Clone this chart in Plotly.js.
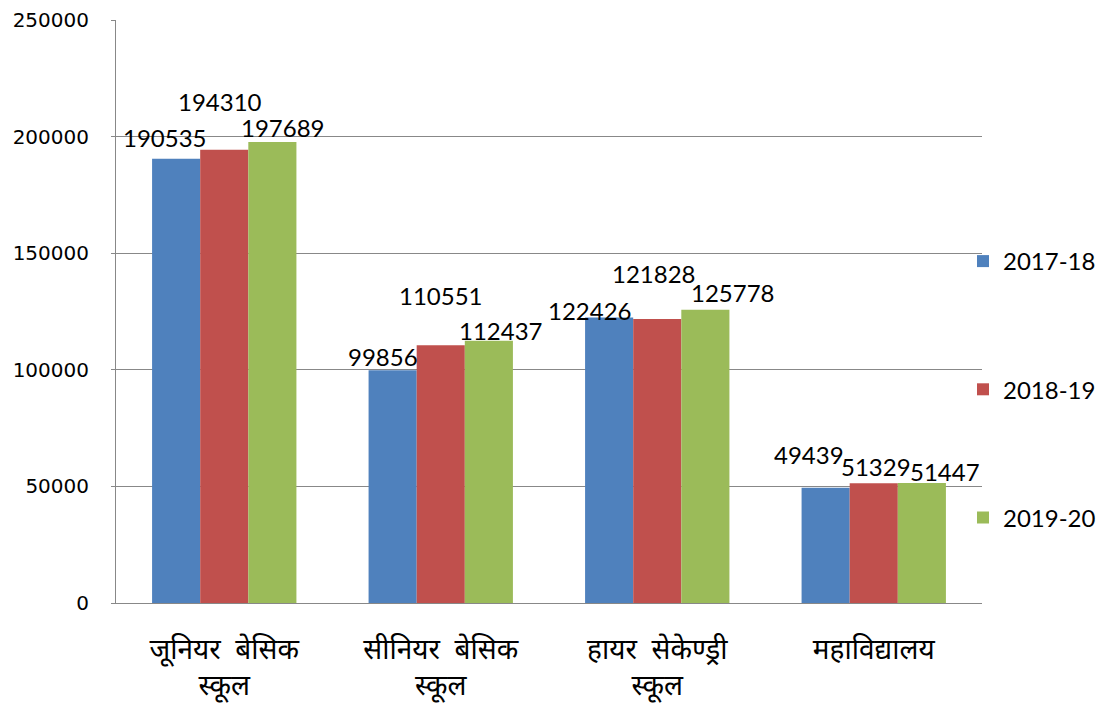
<!DOCTYPE html>
<html>
<head>
<meta charset="utf-8">
<script src="https://cdn.plot.ly/plotly-3.0.1.min.js"></script>
<style>html,body{margin:0;padding:0;background:#fff;}#chart{width:1105px;height:711px;}</style>
</head>
<body>
<div id="chart"></div>
<script>
const categories = ["जूनियर  बेसिक<br>स्कूल", "सीनियर  बेसिक<br>स्कूल", "हायर  सेकेण्ड्री<br>स्कूल", "महाविद्यालय"];
const seriesNames = ["2017-18", "2018-19", "2019-20"];
const values2017 = [190535, 99856, 122426, 49439];
const values2018 = [194310, 110551, 121828, 51329];
const values2019 = [197689, 112437, 125778, 51447];
const colors = ["#4F81BD", "#C0504D", "#9BBB59"];
const yTicks = [0, 50000, 100000, 150000, 200000, 250000];

// label pixel adjustments [xshift, yshift above bar top] per series, per category
const labelAdjust = [
  [[-11, 21], [-10, 14], [-19, 7], [-17, 33]],
  [[-4, 48], [0, 50], [-3, 45], [2, 17]],
  [[11, 14], [12, 10], [28, 17], [23, 12]]
];

const allSeries = [values2017, values2018, values2019];
const catIdx = categories.map((c, i) => i);
const traces = allSeries.map((vals, s) => ({
  type: 'bar',
  name: seriesNames[s],
  x: catIdx,
  y: vals,
  marker: {color: colors[s], line: {width: 0}},
  legendgroup: 'g' + s,
  hoverinfo: 'y'
}));

const barUnit = 2 / 9; // each bar width in category units (group = 2/3)
const annotations = [];
allSeries.forEach((vals, s) => {
  vals.forEach((v, i) => {
    annotations.push({
      x: i + (s - 1) * barUnit,
      y: v,
      xref: 'x', yref: 'y',
      text: String(v),
      showarrow: false,
      xanchor: 'center', yanchor: 'middle',
      xshift: labelAdjust[s][i][0],
      yshift: labelAdjust[s][i][1],
      font: {family: 'Lato, Carlito, sans-serif', size: 24, color: '#000'}
    });
  });
});

const layout = {
  width: 1105, height: 711,
  margin: {l: 116, r: 123, t: 20, b: 108, pad: 0, autoexpand: false},
  paper_bgcolor: '#fff', plot_bgcolor: '#fff',
  barmode: 'group',
  bargap: 1/3,
  bargroupgap: 0,
  showlegend: true,
  legend: {
    xref: 'container', yref: 'container',
    x: 963 / 1105, xanchor: 'left', y: 1 - 239 / 711, yanchor: 'top',
    font: {family: 'Lato, Carlito, sans-serif', size: 24, color: '#000'},
    tracegroupgap: 94,
    bgcolor: 'rgba(0,0,0,0)',
    itemclick: false
  },
  xaxis: {
    type: 'linear',
    range: [-0.5, 3.5],
    tickmode: 'array',
    tickvals: catIdx,
    ticktext: categories,
    showgrid: false,
    zeroline: false,
    showline: true, linecolor: '#888', linewidth: 1,
    ticks: '',
    tickfont: {family: '"Noto Sans Devanagari", "Noto Sans", Lato, sans-serif', size: 28, color: '#000'},
    ticklabelstandoff: 21
  },
  yaxis: {
    range: [0, 250000],
    tickmode: 'array',
    tickvals: yTicks,
    ticktext: yTicks.map(String),
    showgrid: true, gridcolor: '#888', gridwidth: 1,
    zeroline: false,
    showline: true, linecolor: '#888', linewidth: 1,
    ticks: 'outside', ticklen: 4, tickcolor: '#888',
    tickfont: {family: '"DejaVu Sans", Verdana, sans-serif', size: 20, color: '#000'},
    ticklabelstandoff: 18
  },
  annotations: annotations
};

Plotly.newPlot('chart', traces, layout, {staticPlot: true, displayModeBar: false});
</script>
</body>
</html>
